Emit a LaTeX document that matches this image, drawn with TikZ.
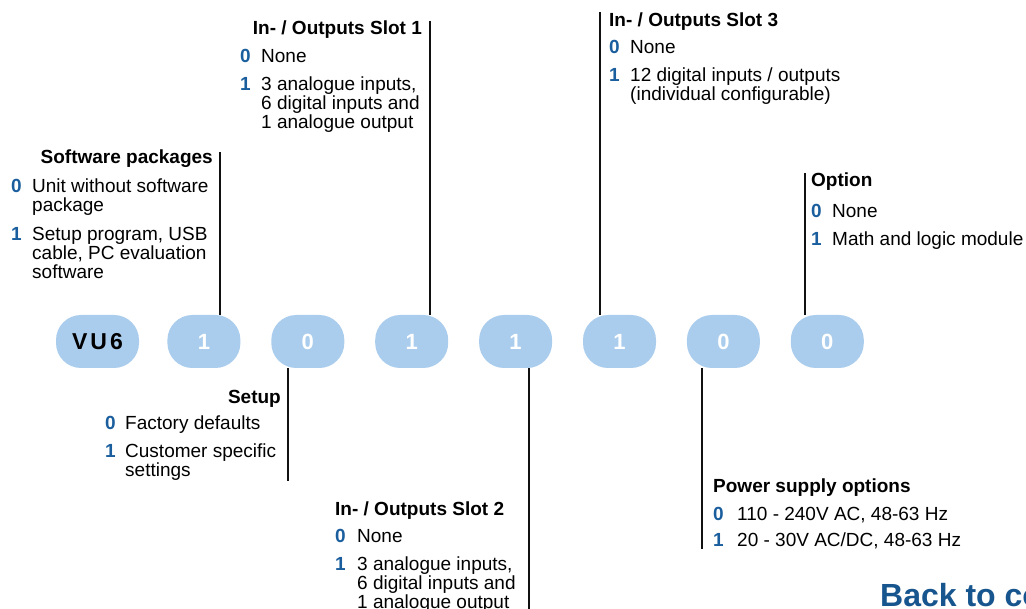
\documentclass[tikz,border=0pt]{standalone}
\usepackage{fontspec}
\setmainfont{Liberation Sans}
\usepackage{xcolor}
\usepackage{tikz}
\usetikzlibrary{positioning}
\definecolor{pillblue}{HTML}{ABCDED}
\definecolor{codeblue}{HTML}{1A5E9E}
\definecolor{dark}{HTML}{111111}
\tikzset{
    pill/.style={rectangle, rounded corners=25pt, fill=pillblue, minimum width=73pt, minimum height=53pt, inner sep=0pt, font=\fontsize{22}{22}\selectfont\bfseries, text=white},
    lead/.style={line width=2.5pt, color=dark},
    head/.style={inner sep=0pt, font=\fontsize{19}{19}\selectfont\bfseries},
    num/.style={inner sep=0pt, anchor=base west, font=\fontsize{19}{19}\selectfont\bfseries, text=codeblue},
    item/.style={inner sep=0pt, anchor=base west, align=left, font=\fontsize{19}{19}\selectfont},
    link/.style={inner sep=0pt, anchor=base west, font=\fontsize{32}{32}\selectfont\bfseries, text=codeblue!90!black}
}
\begin{document}
\begin{tikzpicture}[x=1pt, y=-1pt]
\useasboundingbox (0,0) rectangle (1026,609);
\clip (0,0) rectangle (1026,609);

% order code
\node[pill, minimum width=83pt, text=black, font=\fontsize{23}{23}\selectfont\bfseries] (vu) at (97.5,341.5) {V\kern3pt U\kern3pt 6};
\node[pill, right=28pt of vu] (sw) {1};
\node[pill, right=30.5pt of sw] (su) {0};
\node[pill, right=30.5pt of su] (io1) {1};
\node[pill, right=30.5pt of io1] (io2) {1};
\node[pill, right=30.5pt of io2] (io3) {1};
\node[pill, right=30.5pt of io3] (ps) {0};
\node[pill, right=30.5pt of ps] (op) {0};

% software packages (multi-line items sit on their last baseline)
\node[head, anchor=base east] (swhead) at (213,164) {Software packages};
\node[num] (sw0) at (11,193) {0};
\node[item] (sw0t) at (32,212) {Unit without software\\package};
\node[num] (sw1) at (11,241) {1};
\node[item] (sw1t) at (32,279) {Setup program, USB\\cable, PC evaluation\\software};
\coordinate (swend) at (220,152);
\draw[lead] (swend) -- (swend |- sw.north);

% setup
\node[head, anchor=base east] (suhead) at (281,404) {Setup};
\node[num] (su0) at (105,430) {0};
\node[item] (su0t) at (125,430) {Factory defaults};
\node[num] (su1) at (105,458) {1};
\node[item] (su1t) at (125,477) {Customer specific\\settings};
\coordinate (suend) at (288,481);
\draw[lead] (suend |- su.south) -- (suend);

% slot 1
\node[head, anchor=base east] (io1head) at (422,35) {In- / Outputs Slot 1};
\node[num] (io10) at (240,63) {0};
\node[item] (io10t) at (261,63) {None};
\node[num] (io11) at (240,91) {1};
\node[item] (io11t) at (261,129) {3 analogue inputs,\\6 digital inputs and\\1 analogue output};
\coordinate (io1end) at (430,21);
\draw[lead] (io1end) -- (io1end |- io1.north);

% slot 2
\node[head, anchor=base west] (io2head) at (335,515) {In- / Outputs Slot 2};
\node[num] (io20) at (335,543) {0};
\node[item] (io20t) at (357,543) {None};
\node[num] (io21) at (335,570) {1};
\node[item] (io21t) at (357,608) {3 analogue inputs,\\6 digital inputs and\\1 analogue output};
\coordinate (io2end) at (529,612);
\draw[lead] (io2end |- io2.south) -- (io2end);

% slot 3
\node[head, anchor=base west] (io3head) at (609,27) {In- / Outputs Slot 3};
\node[num] (io30) at (609,54) {0};
\node[item] (io30t) at (630,54) {None};
\node[num] (io31) at (609,82) {1};
\node[item] (io31t) at (630,101) {12 digital inputs / outputs\\(individual configurable)};
\coordinate (io3end) at (600,12);
\draw[lead] (io3end) -- (io3end |- io3.north);

% power supply
\node[head, anchor=base west] (pshead) at (713,493) {Power supply options};
\node[num] (ps0) at (713,520) {0};
\node[item] (ps0t) at (737,520) {110 - 240V AC, 48-63 Hz};
\node[num] (ps1) at (713,547) {1};
\node[item] (ps1t) at (737,547) {20 - 30V AC/DC, 48-63 Hz};
\coordinate (psend) at (702,549);
\draw[lead] (psend |- ps.south) -- (psend);

% option
\node[head, anchor=base west] (ophead) at (811,187) {Option};
\node[num] (op0) at (811,218) {0};
\node[item] (op0t) at (832,218) {None};
\node[num] (op1) at (811,246) {1};
\node[item] (op1t) at (832,246) {Math and logic module};
\coordinate (opend) at (805,173);
\draw[lead] (opend) -- (opend |- op.north);

\node[link] (back) at (880,606) {Back to co};

\end{tikzpicture}
\end{document}
